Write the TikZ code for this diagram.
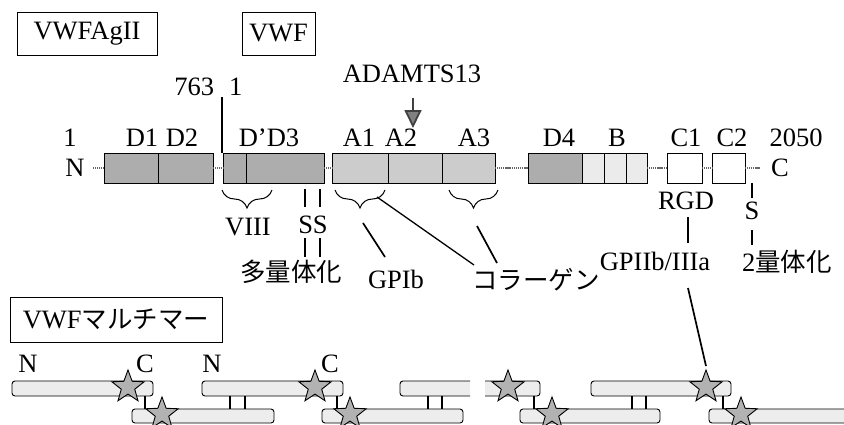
\documentclass[tikz,border=0pt]{standalone}
\usepackage{fontspec}
\setmainfont{Liberation Serif}
\newfontfamily\cjk{Noto Sans CJK JP}
\usetikzlibrary{shapes.geometric,decorations.pathreplacing,arrows.meta}
\begin{document}
\begin{tikzpicture}[x=1pt,y=-1pt,
  every node/.style={inner sep=0pt, outer sep=0pt},
  txt/.style={font=\fontsize{26.5}{30}\selectfont, anchor=base},
  jtxt/.style={font=\fontsize{25.5}{30}\selectfont\cjk},
  tbox/.style={draw, line width=0.9pt, font=\fontsize{26.5}{30}\selectfont},
  dom/.style={draw, line width=0.8pt, anchor=north west, minimum height=30pt},
  ddom/.style={dom, fill=black!32},
  adom/.style={dom, fill=black!20},
  bdom/.style={dom, fill=black!8},
  cdom/.style={dom, fill=white},
  linker/.style={draw=black!60, line width=2.6pt, dash pattern=on 1.2pt off 0.7pt},
  conn/.style={line width=1.7pt},
  lline/.style={line width=1.3pt},
  brc/.style={decorate, decoration={brace, amplitude=18pt}, line width=1pt},
  mbar/.style={draw, line width=0.9pt, fill=black!7, rounded corners=3pt, anchor=north west, minimum height=15pt},
  mbbar/.style={mbar, minimum height=14pt},
  barpath/.style={draw, line width=0.9pt, fill=black!7, rounded corners=3pt},
  stz/.style={star, star points=5, star point ratio=2.4, minimum size=34pt, draw, fill=black!30, line width=0.9pt}
]
\useasboundingbox (0,0) rectangle (844,424);

% header boxes
\node[tbox, minimum width=140pt, minimum height=43pt] (agii) at (87,33.5) {VWFAgII};
\node[tbox, minimum width=73pt, minimum height=43pt] (vwf) at (278.5,33.5) {VWF};

% cut site 763|1
\node[txt, anchor=base east] (n763) at (214,95) {763};
\node[txt, anchor=base west] (n1b) at (229,95) {1};

% ADAMTS13
\node[txt] (adam) at (412,82) {ADAMTS13};
\coordinate (atop) at (413,98);
\coordinate (atip) at (413,128);
\draw[line width=1.8pt, draw=black!75, -{Triangle[width=17pt,length=18pt,fill=black!50]}] (atop) -- (atip);

% domain labels
\node[txt] (l1) at (70,146) {1};
\node[txt] (lD1) at (142,146) {D1};
\node[txt] (lD2) at (182,146) {D2};
\node[txt] (lDD3) at (269,146) {D’D3};
\node[txt] (lA1) at (359,146) {A1};
\node[txt] (lA2) at (401,146) {A2};
\node[txt] (lA3) at (474,146) {A3};
\node[txt] (lD4) at (559,146) {D4};
\node[txt] (lB) at (617,146) {B};
\node[txt] (lC1) at (686,146) {C1};
\node[txt] (lC2) at (732,146) {C2};
\node[txt] (l2050) at (796,146) {2050};

% domains
\node[ddom, minimum width=54pt] (D1) at (104,153) {};
\node[ddom, minimum width=55pt] (D2) at (158,153) {};
\node[ddom, minimum width=23pt] (Dp) at (223,153) {};
\node[ddom, minimum width=78pt] (D3) at (246,153) {};
\node[adom, minimum width=56pt] (A1) at (332,153) {};
\node[adom, minimum width=54pt] (A2) at (388,153) {};
\node[adom, minimum width=53pt] (A3) at (442,153) {};
\node[ddom, minimum width=54pt] (D4) at (528,153) {};
\node[bdom, minimum width=22pt] (B1) at (582,153) {};
\node[bdom, minimum width=22pt] (B2) at (604,153) {};
\node[bdom, minimum width=21pt] (B3) at (626,153) {};
\node[cdom, minimum width=35pt] (C1) at (667,153) {};
\node[cdom, minimum width=33pt] (C2) at (712,153) {};

\node[txt, anchor=center] (Nl) at (75,168) {N};
\node[txt, anchor=center] (Cl) at (780,168) {C};

% linkers
\coordinate (ntail) at (93,168);
\coordinate (ctail) at (760,168);
\draw[linker] (ntail) -- (D1.west);
\draw[linker] (D2.east) -- (Dp.west);
\draw[linker] (D3.east) -- (A1.west);
\draw[linker] (A3.east) -- (D4.west);
\draw[linker] (B3.east) -- (C1.west);
\draw[linker] (C1.east) -- (C2.west);
\draw[linker] (C2.east) -- (ctail);

% cut line
\coordinate (cut) at (222,97);
\draw[conn] (cut) -- (cut |- Dp.north);

% braces
\draw[brc] (272,190) -- (222,190);
\draw[brc] (385,190) -- (335,190);
\draw[brc] (498,190) -- (449,190);

% annotations
\node[txt] (viii) at (248,235) {VIII};
\node[txt] (ss) at (313,233) {SS};
\draw[conn] (305,189) -- (305,207);
\draw[conn] (320,189) -- (320,207);
\draw[conn] (305,238) -- (305,257);
\draw[conn] (320,238) -- (320,257);
\node[jtxt] (multi) at (291,272) {多量体化};

\node[txt] (gpib) at (396,288) {GPIb};
\coordinate (g1a) at (363,223); \coordinate (g1b) at (385,257);
\draw[conn] (g1a) -- (g1b);
\coordinate (c1a) at (377,197); \coordinate (c1b) at (474,265);
\draw[lline] (c1a) -- (c1b);
\coordinate (c3a) at (477,226); \coordinate (c3b) at (497,263);
\draw[conn] (c3a) -- (c3b);
\node[jtxt] (coll) at (536,280) {コラーゲン};

\node[txt] (rgd) at (686,209) {RGD};
\draw[conn] (688,217) -- (688,243);
\node[txt] (gp2) at (655,270) {GPIIb/IIIa};
\draw[conn] (752,183) -- (752,198);
\node[txt] (sl) at (752,219) {S};
\draw[conn] (752,230) -- (752,245);
\node[txt] (dimer) at (787,271) {2{\cjk\fontsize{25.5}{30}\selectfont 量体化}};

% multimer box
\node[tbox, minimum width=212pt, minimum height=45pt] (multbox) at (116,319.5) {VWF{\cjk\fontsize{25.5}{30}\selectfont マルチマー}};
\node[txt] (mN1) at (28,372) {N};
\node[txt] (mC1) at (145,372) {C};
\node[txt] (mN2) at (212,372) {N};
\node[txt] (mC2) at (330,372) {C};

% bars
\node[mbar, minimum width=141pt] (t1) at (12,381) {};
\node[mbar, minimum width=141pt] (t2) at (202,381) {};
\filldraw[barpath] (470,381) -- (400,381) -- (400,396) -- (470,396);
\filldraw[barpath] (485,381) -- (540,381) -- (540,396) -- (485,396);
\node[mbar, minimum width=140pt] (t4) at (591,381) {};

\node[mbbar, minimum width=142pt] (b1) at (132,409) {};
\node[mbbar, minimum width=141pt] (b2) at (322,409) {};
\node[mbbar, minimum width=140pt] (b3) at (520,409) {};
\filldraw[barpath] (850,409) -- (709,409) -- (709,423) -- (850,423);

% connectors between bars
\draw[lline] (145,396) -- (145,409);
\draw[lline] (337,396) -- (337,409);
\draw[lline] (534,396) -- (534,409);
\draw[lline] (723,396) -- (723,409);
\draw[lline] (230,396) -- (230,409);
\draw[lline] (245,396) -- (245,409);
\draw[lline] (428,396) -- (428,409);
\draw[lline] (442,396) -- (442,409);
\draw[lline] (632,396) -- (632,409);
\draw[lline] (646,396) -- (646,409);

% stars
\node[stz] (s1) at (128,387) {};
\node[stz] (s2) at (315,387) {};
\node[stz] (s3) at (508,387) {};
\node[stz] (s4) at (706,387) {};
\node[stz] (s5) at (162,414) {};
\node[stz] (s6) at (350,414) {};
\node[stz] (s7) at (552,414) {};
\node[stz] (s8) at (741,414) {};

% GPIIb/IIIa to star
\coordinate (gpl) at (688,288);
\draw[conn] (gpl) -- ([yshift=4pt]s4.north);
\end{tikzpicture}
\end{document}
